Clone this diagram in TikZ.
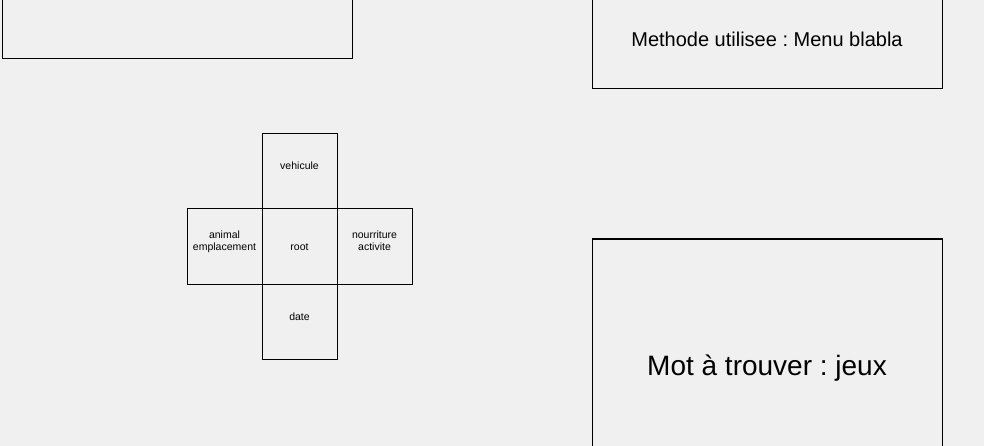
\documentclass[tikz,border=0pt]{standalone}
\usepackage{fontspec}
\setmainfont{Liberation Sans}
\frenchspacing
\definecolor{bggray}{HTML}{F0F0F0}
\begin{document}
\begin{tikzpicture}[x=1pt,y=-1pt,
  box/.style={draw=black,line width=1pt,inner sep=0pt},
  cell/.style={box,minimum width=75pt,minimum height=75pt},
  small/.style={font=\fontsize{10.5}{13}\selectfont,inner sep=0pt,align=center,anchor=base},
  mid/.style={font=\fontsize{20}{24}\selectfont,inner sep=0pt,anchor=base},
  big/.style={font=\fontsize{28}{32}\selectfont,inner sep=0pt,anchor=base}]
\fill[bggray] (0,0) rectangle (984,446);
\useasboundingbox (0,0) rectangle (984,446);
\clip (0,0) rectangle (984,446);
% large boxes
\node[box,minimum width=350pt,minimum height=200pt] (tl) at (177,-41) {};
\node[box,minimum width=350pt,minimum height=200pt] (tr) at (767,-11) {};
\node[box,minimum width=350pt,minimum height=250pt] (br) at (767,364) {};
\node[mid] (methode) at (767,47) {Methode utilisee : Menu blabla};
\node[big] (mot) at (767,375) {Mot à trouver : jeux};
% cross
\node[cell] (vehicule) at (299.5,171.5) {};
\node[cell] (left) at (224.5,246.5) {};
\node[cell] (root) at (299.5,246.5) {};
\node[cell] (right) at (374.5,246.5) {};
\node[cell] (date) at (299.5,321.5) {};
\node[small] (lvehicule) at (299.5,170) {vehicule};
\node[small] (lleft) at (224.5,251) {animal\\emplacement};
\node[small] (lroot) at (299.5,251) {root};
\node[small] (lright) at (374.5,251) {nourriture\\activite};
\node[small] (ldate) at (299.5,320) {date};
\end{tikzpicture}
\end{document}
